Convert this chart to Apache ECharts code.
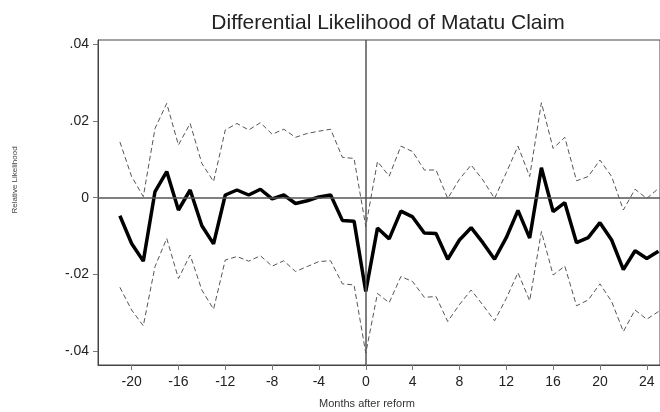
<!DOCTYPE html>
<html>
<head>
<meta charset="utf-8">
<script src="https://cdn.jsdelivr.net/npm/echarts@6/dist/echarts.min.js"></script>
<style>
  html, body { margin: 0; padding: 0; background: #fff; }
  #chart { width: 660px; height: 412px; }
</style>
</head>
<body>
<div id="chart"></div>
<script>
var months = [];
for (var m = -21; m <= 25; m++) months.push(m);

var estimate = [
  -0.0047, -0.0119, -0.0165, 0.0016, 0.0068, -0.0032, 0.0020, -0.0073, -0.0120, 0.0007,
  0.0020, 0.0007, 0.0022, -0.0003, 0.0007, -0.0015, -0.0008, 0.0002, 0.0007, -0.0059,
  -0.0061, -0.0244, -0.0079, -0.0107, -0.0035, -0.0050, -0.0092, -0.0093, -0.0160, -0.0110,
  -0.0078, -0.0117, -0.0160, -0.0104, -0.0033, -0.0105, 0.0078, -0.0036, -0.0013, -0.0117,
  -0.0104, -0.0065, -0.0110, -0.0187, -0.0138, -0.0158, -0.0139
];
var upper = [
  0.0145, 0.0055, 0.0003, 0.0180, 0.0245, 0.0137, 0.0193, 0.0089, 0.0042, 0.0176,
  0.0193, 0.0176, 0.0195, 0.0165, 0.0178, 0.0157, 0.0167, 0.0173, 0.0178, 0.0105,
  0.0102, -0.0075, 0.0094, 0.0056, 0.0134, 0.0120, 0.0072, 0.0072, -0.0002, 0.0048,
  0.0085, 0.0046, -0.0002, 0.0065, 0.0134, 0.0055, 0.0247, 0.0128, 0.0157, 0.0044,
  0.0055, 0.0098, 0.0055, -0.0032, 0.0022, -0.0002, 0.0024
];
var lower = [
  -0.0233, -0.0292, -0.0333, -0.0179, -0.0106, -0.0210, -0.0149, -0.0240, -0.0290, -0.0162,
  -0.0153, -0.0165, -0.0151, -0.0178, -0.0164, -0.0192, -0.0179, -0.0166, -0.0164, -0.0224,
  -0.0227, -0.0404, -0.0249, -0.0273, -0.0205, -0.0218, -0.0259, -0.0257, -0.0322, -0.0278,
  -0.0240, -0.0279, -0.0320, -0.0262, -0.0195, -0.0268, -0.0088, -0.0201, -0.0178, -0.0281,
  -0.0266, -0.0224, -0.0270, -0.0348, -0.0292, -0.0316, -0.0296
];
var xTicks = [-20, -16, -12, -8, -4, 0, 4, 8, 12, 16, 20, 24];
var yTicks = [-0.04, -0.02, 0, 0.02, 0.04];

function pairs(vals) {
  return months.map(function (m, i) { return [m, vals[i]]; });
}

function fmtY(v) {
  if (Math.abs(v) < 1e-9) return '0';
  var s = Math.abs(v).toFixed(2).replace(/^0/, '');
  return (v < 0 ? '-' : '') + s;
}

var chart = echarts.init(document.getElementById('chart'));
var font = 'Liberation Sans, Arial, sans-serif';

var option = {
  animation: false,
  title: {
    text: 'Differential Likelihood of Matatu Claim',
    left: 383,
    textAlign: 'center',
    top: 8,
    textStyle: { fontFamily: font, fontSize: 21, fontWeight: 'normal', color: '#222' }
  },
  grid: {
    left: 98, right: -2, top: 40, bottom: 47,
    show: true, borderColor: '#444', borderWidth: 1
  },
  xAxis: {
    type: 'value',
    min: -22.87,
    max: 25.13,
    splitLine: { show: false },
    axisLine: { onZero: false, lineStyle: { color: '#444', width: 1 } },
    axisTick: { customValues: xTicks, length: 5, lineStyle: { color: '#777' } },
    axisLabel: {
      customValues: xTicks, margin: 10,
      fontFamily: font, fontSize: 14, color: '#222'
    }
  },
  yAxis: {
    type: 'value',
    min: -0.0435,
    max: 0.041,
    splitLine: { show: false },
    axisLine: { show: true, onZero: false, lineStyle: { color: '#444', width: 1 } },
    axisTick: { show: true, customValues: yTicks, length: 5, lineStyle: { color: '#777' } },
    axisLabel: {
      customValues: yTicks, margin: 9,
      fontFamily: font, fontSize: 14, color: '#222',
      formatter: fmtY
    }
  },
  graphic: [
    {
      type: 'text',
      x: 15, y: 180,
      rotation: Math.PI / 2,
      style: {
        text: 'Relative Likelihood',
        fontFamily: font, fontSize: 8, fill: '#444',
        textAlign: 'center', textVerticalAlign: 'middle'
      }
    },
    {
      type: 'text',
      x: 367, y: 404,
      style: {
        text: 'Months after reform',
        fontFamily: font, fontSize: 11, fill: '#333',
        textAlign: 'center', textVerticalAlign: 'middle'
      }
    }
  ],
  series: [
    {
      name: 'upper', type: 'line', data: pairs(upper), showSymbol: false,
      lineStyle: { color: '#555', width: 1, type: [5, 3] }, z: 2
    },
    {
      name: 'lower', type: 'line', data: pairs(lower), showSymbol: false,
      lineStyle: { color: '#555', width: 1, type: [5, 3] }, z: 2
    },
    {
      name: 'estimate', type: 'line', data: pairs(estimate), showSymbol: false,
      lineStyle: { color: '#000', width: 3.5 }, z: 3,
      markLine: {
        silent: true, symbol: 'none', label: { show: false },
        lineStyle: { color: '#555', width: 1.5, type: 'solid' },
        data: [{ yAxis: 0 }, { xAxis: 0 }]
      }
    }
  ]
};

chart.setOption(option);
</script>
</body>
</html>
